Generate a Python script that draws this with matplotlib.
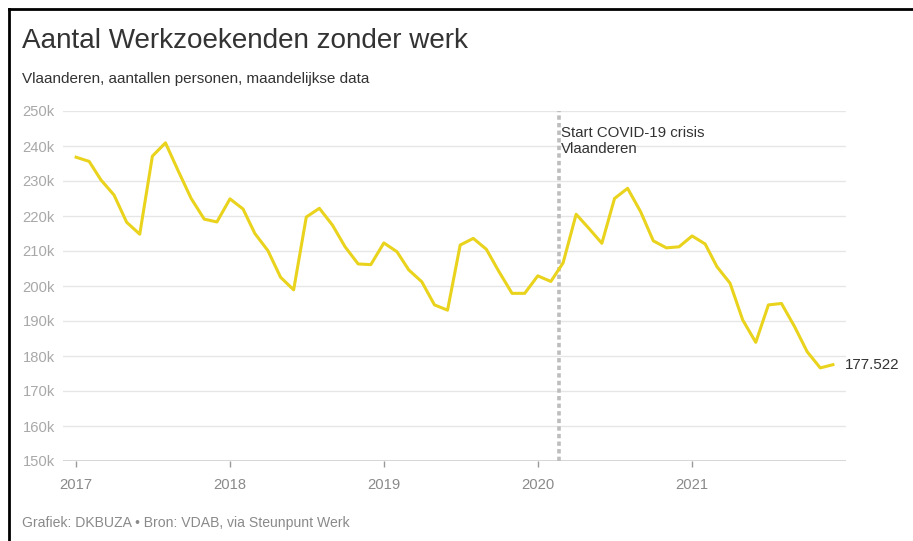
import matplotlib
matplotlib.use("Agg")
import matplotlib.pyplot as plt
from matplotlib.lines import Line2D
import pandas as pd

plt.rcParams['font.family'] = ['Liberation Sans', 'DejaVu Sans']

# ---- data (thousands of persons, monthly, Flanders) ----
start_month = "2017-01-01"
values_2017 = [236.8, 235.6, 230.3, 226.0, 218.2, 214.8, 237.1, 240.9, 232.7, 225.0, 219.1, 218.3]
values_2018 = [224.9, 222.0, 215.0, 210.1, 202.5, 198.9, 219.7, 222.2, 217.4, 211.2, 206.3, 206.1]
values_2019 = [212.3, 209.8, 204.6, 201.2, 194.6, 193.1, 211.7, 213.6, 210.5, 204.1, 197.9, 197.9]
values_2020 = [202.9, 201.3, 206.6, 220.5, 216.5, 212.2, 225.0, 227.9, 221.2, 212.9, 210.9, 211.2]
values_2021 = [214.3, 212.0, 205.5, 200.8, 190.3, 183.9, 194.6, 195.0, 188.4, 181.2, 176.6, 177.522]
values = values_2017 + values_2018 + values_2019 + values_2020 + values_2021
dates = pd.date_range(start_month, periods=len(values), freq="MS")

y_ticks = [150, 160, 170, 180, 190, 200, 210, 220, 230, 240, 250]
y_tick_labels = [f"{v}k" for v in y_ticks]
x_tick_years = [2017, 2018, 2019, 2020, 2021]
covid_date = pd.Timestamp("2020-02-20")
covid_label = "Start COVID-19 crisis\nVlaanderen"
last_label = "177.522"

title = "Aantal Werkzoekenden zonder werk"
subtitle = "Vlaanderen, aantallen personen, maandelijkse data"
footer = "Grafiek: DKBUZA \u2022 Bron: VDAB, via Steunpunt Werk"

# ---- figure ----
W, H = 913, 541
fig = plt.figure(figsize=(W / 100, H / 100), dpi=100)
fig.patch.set_facecolor("white")

def fx(px):
    return px / W

def fy(py):
    return 1 - py / H

ax = fig.add_axes([fx(63), fy(461), fx(846) - fx(63), (461 - 111) / H])
ax.set_facecolor("white")

ax.set_xlim(pd.Timestamp("2016-12-01"), pd.Timestamp("2022-01-01"))
ax.set_ylim(150, 250)

for v in y_ticks[1:]:
    ax.axhline(v, color="#e6e6e6", lw=1.0, zorder=1)
ax.axhline(150, color="#d0d0d0", lw=1.2, zorder=1)

ax.plot(dates, values, color="#e9d31c", lw=2.2, solid_joinstyle="round", zorder=3, clip_on=False)

ax.axvline(covid_date, color="#bdbdbd", lw=2.6, ls=(0, (1.2, 0.9)), zorder=2)
ax.text(covid_date + pd.Timedelta(days=6), 245.8, covid_label, fontsize=10.8, color="#333333",
        va="top", ha="left", linespacing=1.25, zorder=4)

ax.text(dates[-1] + pd.Timedelta(days=28), values[-1], last_label, fontsize=10.9, color="#333333",
        va="center", ha="left", clip_on=False)

for s in ax.spines.values():
    s.set_visible(False)

ax.set_yticks(y_ticks)
ax.set_yticklabels(y_tick_labels)
ax.tick_params(axis="y", length=0, pad=29, labelsize=10.6, labelcolor="#a8a8a8")
for lab in ax.get_yticklabels():
    lab.set_horizontalalignment("left")

ax.set_xticks([pd.Timestamp(f"{y}-01-01") for y in x_tick_years])
ax.set_xticklabels([str(y) for y in x_tick_years])
ax.tick_params(axis="x", length=4.5, width=1, color="#999999", direction="out",
               pad=7.5, labelsize=10.6, labelcolor="#8a8a8a")

# texts
fig.text(fx(22), fy(41), title, fontsize=20.1, color="#333333", va="center", ha="left")
fig.text(fx(22), fy(79), subtitle, fontsize=11, color="#333333", va="center", ha="left")
fig.text(fx(22), fy(523), footer, fontsize=10.1, color="#8a8a8a", va="center", ha="left")

# frame lines (top and left)
fig.add_artist(Line2D([fx(9), 1.0], [fy(9), fy(9)], color="black", lw=2.0, transform=fig.transFigure))
fig.add_artist(Line2D([fx(9), fx(9)], [fy(9), 0.0], color="black", lw=2.0, transform=fig.transFigure))

fig.savefig("out.png", dpi=100, facecolor="white")
